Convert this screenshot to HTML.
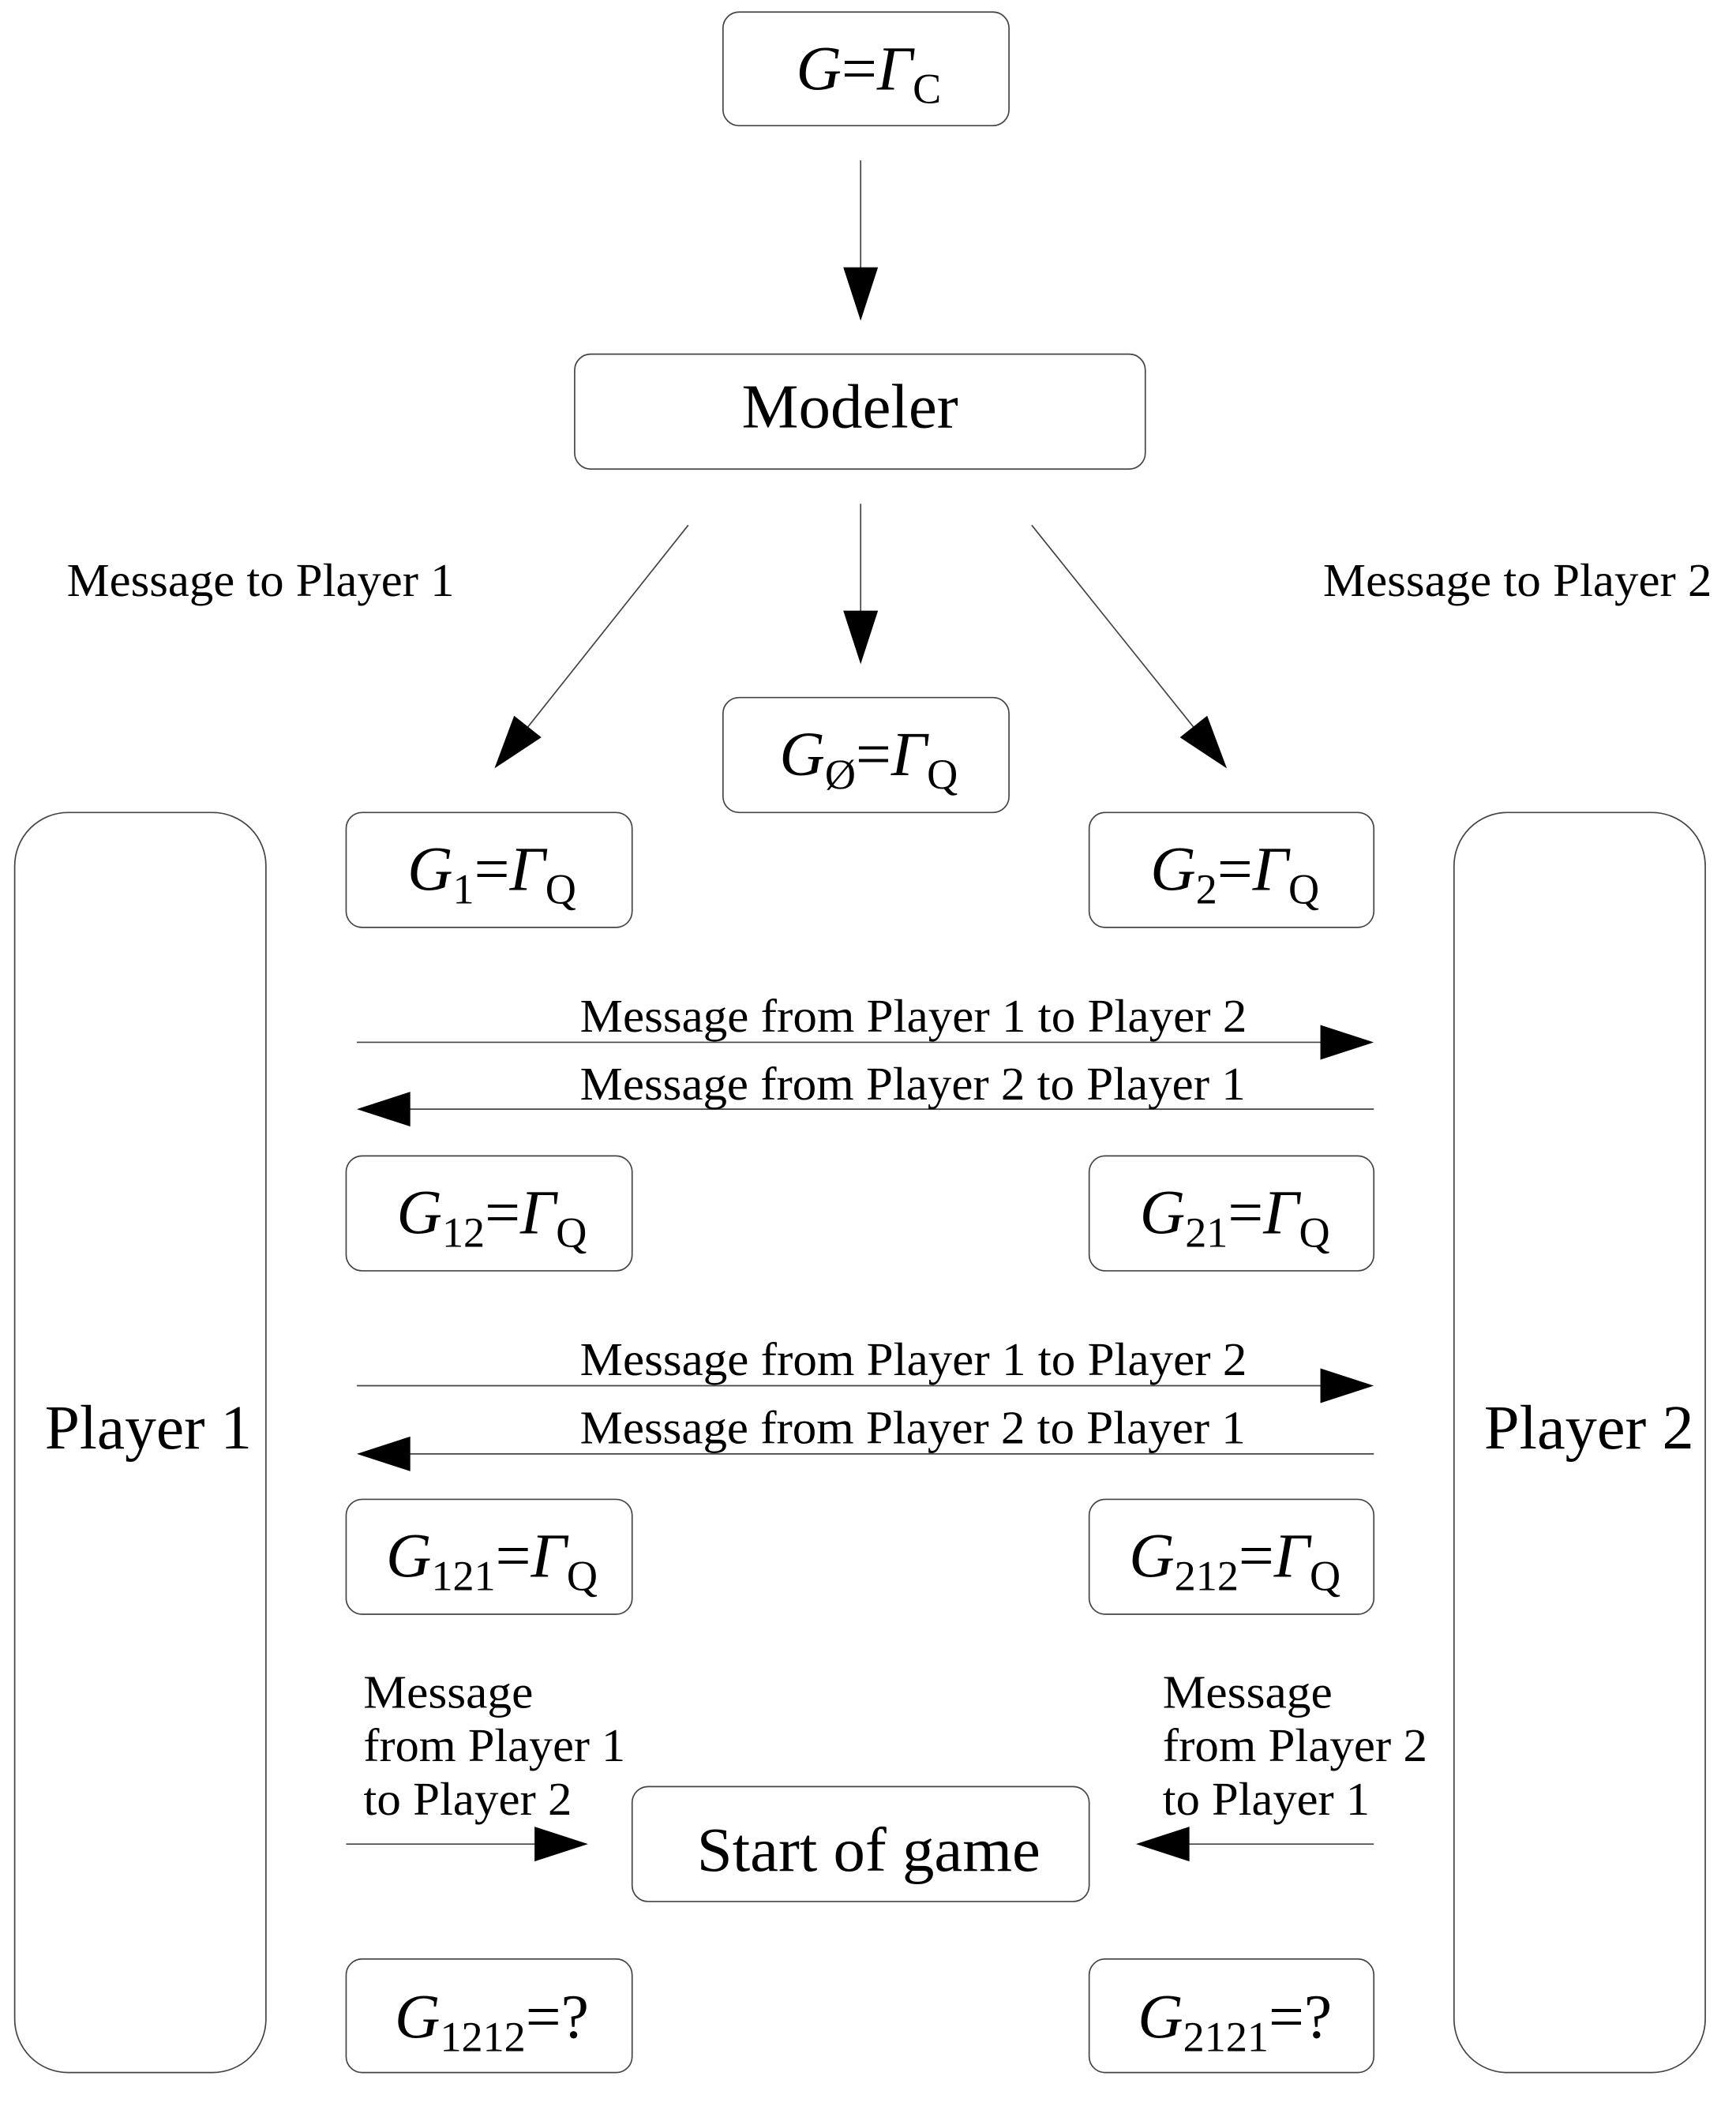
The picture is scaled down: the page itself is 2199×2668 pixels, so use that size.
<!DOCTYPE html>
<html><head><meta charset="utf-8"><style>html,body{margin:0;padding:0;background:#fff}svg{display:block}</style></head>
<body>
<svg xmlns="http://www.w3.org/2000/svg" width="2199" height="2668" viewBox="0 0 1299 1576" font-family="Liberation Serif, serif" fill="#000">
<g fill="none" stroke="#444" stroke-width="1">
<rect x="541" y="9" width="214" height="85" rx="12"/>
<rect x="430" y="265" width="427" height="86" rx="12"/>
<rect x="541" y="522" width="214" height="86" rx="12"/>
<rect x="11" y="608" width="188" height="943" rx="40"/>
<rect x="1088" y="608" width="188" height="943" rx="40"/>
<rect x="259" y="608" width="214" height="86" rx="12"/>
<rect x="815" y="608" width="213" height="86" rx="12"/>
<rect x="259" y="865" width="214" height="86" rx="12"/>
<rect x="815" y="865" width="213" height="86" rx="12"/>
<rect x="259" y="1122" width="214" height="86" rx="12"/>
<rect x="815" y="1122" width="213" height="86" rx="12"/>
<rect x="473" y="1337" width="342" height="86" rx="12"/>
<rect x="259" y="1466" width="214" height="85" rx="12"/>
<rect x="815" y="1466" width="213" height="85" rx="12"/>
<line x1="644" y1="120" x2="644" y2="205"/>
<line x1="644" y1="377" x2="644" y2="460"/>
<line x1="515" y1="393" x2="395" y2="544"/>
<line x1="772" y1="393" x2="893" y2="544"/>
<line x1="267" y1="780" x2="990" y2="780"/>
<line x1="305" y1="830" x2="1028" y2="830"/>
<line x1="267" y1="1037" x2="990" y2="1037"/>
<line x1="305" y1="1088" x2="1028" y2="1088"/>
<line x1="259" y1="1380" x2="402" y2="1380"/>
<line x1="888" y1="1380" x2="1028" y2="1380"/>
</g>
<polygon points="631,200 657,200 644,240"/>
<polygon points="631,457 657,457 644,497"/>
<polygon points="405.1,551.8 384.7,535.6 370,575"/>
<polygon points="882.9,551.8 903.3,535.6 918,575"/>
<polygon points="988,767 988,793 1028,780"/>
<polygon points="307,817 307,843 267,830"/>
<polygon points="988,1024 988,1050 1028,1037"/>
<polygon points="307,1075 307,1101 267,1088"/>
<polygon points="400,1367 400,1393 440,1380"/>
<polygon points="890,1367 890,1393 850,1380"/>
<g font-size="47" text-anchor="middle">
<text x="650" y="67"><tspan font-style="italic">G</tspan>=<tspan font-style="italic">Γ</tspan><tspan font-size="32" dy="10">C</tspan></text>
<text x="636" y="320" textLength="162" lengthAdjust="spacingAndGlyphs">Modeler</text>
<text x="650" y="580"><tspan font-style="italic">G</tspan><tspan font-size="32" dy="10">Ø</tspan><tspan dy="-10">=</tspan><tspan font-style="italic">Γ</tspan><tspan font-size="32" dy="10">Q</tspan></text>
<text x="368" y="666"><tspan font-style="italic">G</tspan><tspan font-size="32" dy="10">1</tspan><tspan dy="-10">=</tspan><tspan font-style="italic">Γ</tspan><tspan font-size="32" dy="10">Q</tspan></text>
<text x="924" y="666"><tspan font-style="italic">G</tspan><tspan font-size="32" dy="10">2</tspan><tspan dy="-10">=</tspan><tspan font-style="italic">Γ</tspan><tspan font-size="32" dy="10">Q</tspan></text>
<text x="368" y="923"><tspan font-style="italic">G</tspan><tspan font-size="32" dy="10">12</tspan><tspan dy="-10">=</tspan><tspan font-style="italic">Γ</tspan><tspan font-size="32" dy="10">Q</tspan></text>
<text x="924" y="923"><tspan font-style="italic">G</tspan><tspan font-size="32" dy="10">21</tspan><tspan dy="-10">=</tspan><tspan font-style="italic">Γ</tspan><tspan font-size="32" dy="10">Q</tspan></text>
<text x="368" y="1180"><tspan font-style="italic">G</tspan><tspan font-size="32" dy="10">121</tspan><tspan dy="-10">=</tspan><tspan font-style="italic">Γ</tspan><tspan font-size="32" dy="10">Q</tspan></text>
<text x="924" y="1180"><tspan font-style="italic">G</tspan><tspan font-size="32" dy="10">212</tspan><tspan dy="-10">=</tspan><tspan font-style="italic">Γ</tspan><tspan font-size="32" dy="10">Q</tspan></text>
<text x="650" y="1400" textLength="257" lengthAdjust="spacingAndGlyphs">Start of game</text>
<text x="368" y="1525"><tspan font-style="italic">G</tspan><tspan font-size="32" dy="10">1212</tspan><tspan dy="-10">=?</tspan></text>
<text x="924" y="1525"><tspan font-style="italic">G</tspan><tspan font-size="32" dy="10">2121</tspan><tspan dy="-10">=?</tspan></text>
<text x="111" y="1084" textLength="155" lengthAdjust="spacingAndGlyphs">Player 1</text>
<text x="1189" y="1084" textLength="157" lengthAdjust="spacingAndGlyphs">Player 2</text>
</g>
<g font-size="35" lengthAdjust="spacingAndGlyphs">
<text x="50" y="446" textLength="290" lengthAdjust="spacingAndGlyphs">Message to Player 1</text>
<text x="990" y="446" textLength="291" lengthAdjust="spacingAndGlyphs">Message to Player 2</text>
<text x="434" y="772" textLength="499" lengthAdjust="spacingAndGlyphs">Message from Player 1 to Player 2</text>
<text x="434" y="823" textLength="498" lengthAdjust="spacingAndGlyphs">Message from Player 2 to Player 1</text>
<text x="434" y="1029" textLength="499" lengthAdjust="spacingAndGlyphs">Message from Player 1 to Player 2</text>
<text x="434" y="1080" textLength="498" lengthAdjust="spacingAndGlyphs">Message from Player 2 to Player 1</text>
<text x="272" y="1278" textLength="127" lengthAdjust="spacingAndGlyphs">Message</text>
<text x="272" y="1318" textLength="196" lengthAdjust="spacingAndGlyphs">from Player 1</text>
<text x="272" y="1358" textLength="156" lengthAdjust="spacingAndGlyphs">to Player 2</text>
<text x="870" y="1278" textLength="127" lengthAdjust="spacingAndGlyphs">Message</text>
<text x="870" y="1318" textLength="198" lengthAdjust="spacingAndGlyphs">from Player 2</text>
<text x="870" y="1358" textLength="155" lengthAdjust="spacingAndGlyphs">to Player 1</text>
</g>
</svg>
</body></html>
